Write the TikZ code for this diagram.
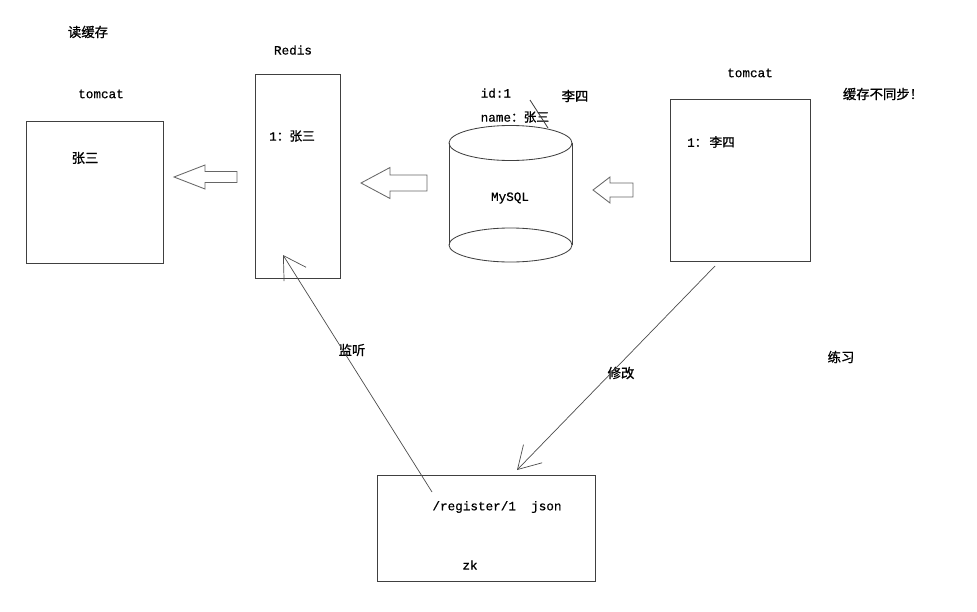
\documentclass[tikz,border=0pt]{standalone}
\usepackage{fontspec}
\setmainfont{Liberation Mono}[FakeBold=0.6]
\newfontfamily\cjk{Noto Sans CJK SC}[FakeBold=1]
\usetikzlibrary{
	positioning				% relative placement
	, arrows.meta			% open barb tips
	, fit					% boxes fitted to corners
}

\begin{document}
\begin{tikzpicture}[
		x=0.025cm, y=-0.025cm
		, box/.style={draw=black!75, line width=0.6pt, inner sep=0pt}
		, txt/.style={font=\fontsize{9}{11}\selectfont, inner sep=1pt}
		, zh/.style={font=\fontsize{9.5}{11}\selectfont\cjk, inner sep=1pt}
		, wire/.style={draw=black!70, line width=0.5pt, -{Straight Barb[length=5.5mm, width=6.5mm]}}
		, hollow/.style={draw=black!60, line width=0.6pt, fill=white}
	]
	\useasboundingbox (0,0) rectangle (977,611);

	% The boxes
	\node[box, fit={(26,121) (163,263)}] (tomcatL) {};
	\node[box, fit={(255,74) (340,278)}] (redis) {};
	\node[box, fit={(670,99) (810,261)}] (tomcatR) {};
	\node[box, fit={(377,475) (595,581)}] (zk) {};

	% MySQL cylinder
	\draw[box] (449,143) -- (449,245) (572,143) -- (572,245);
	\draw[box] (510.5,143) ellipse [x radius=1.5375cm, y radius=0.4375cm];
	\draw[box] (510.5,245) ellipse [x radius=1.5375cm, y radius=0.425cm];

	% Hollow arrows pointing left
	\foreach \tip/\head/\tail/\y/\hw/\sw in {174/205/237/177/12/5.5, 361/390/427/183/15.5/8, 593/610/633/190/13/7} {
		\draw[hollow] (\tip,\y) -- (\head,\y-\hw) -- (\head,\y-\sw) -- (\tail,\y-\sw)
			-- (\tail,\y+\sw) -- (\head,\y+\sw) -- (\head,\y+\hw) -- cycle;
	};

	% Texts
	\node[zh] (readcache) at (88,32) {读缓存};
	\node[txt] (tomcatLname) at (101,94) {tomcat};
	\node[zh] (zhangsan) at (85,158) {张三};
	\node[txt] (redisname) at (293,50) {Redis};
	\node[txt] (rediskey) at (292,136) {1{\cjk ：张三}};
	\node[txt, anchor=west] (rowid) at (479,93) {id:1};
	\node[txt, anchor=west] (rowname) at (479,117) {name{\cjk ：张三}};
	\node[zh] (lisi) at (575,96) {李四};
	\node[txt] (mysql) at (510,198) {MySQL};
	\node[txt] (tomcatRname) at (750,73) {tomcat};
	\node[txt] (tomcatkey) at (711,142) {1{\cjk ：\,李四}};
	\node[zh] (nosync) at (883,94) {缓存不同步！};
	\node[zh] (practice) at (841,357) {练习};
	\node[txt] (zkpath) at (497,507) {/register/1\ \ json};
	\node[txt] (zkname) at (470,565) {zk};
	\node[zh] (listen) at (352,350) {监听};
	\node[zh] (modify) at (621,373) {修改};

	% stroke over the name
	\draw[box] (530,100) -- (548,128);

	% Watch and change
	\coordinate (listenfrom) at (432,492);
	\coordinate (listento) at (283,255);
	\draw[wire] (listenfrom) -- (listento);
	\coordinate (modifyfrom) at (715,266);
	\coordinate (modifyto) at (517,470);
	\draw[wire] (modifyfrom) -- (modifyto);
\end{tikzpicture}
\end{document}
